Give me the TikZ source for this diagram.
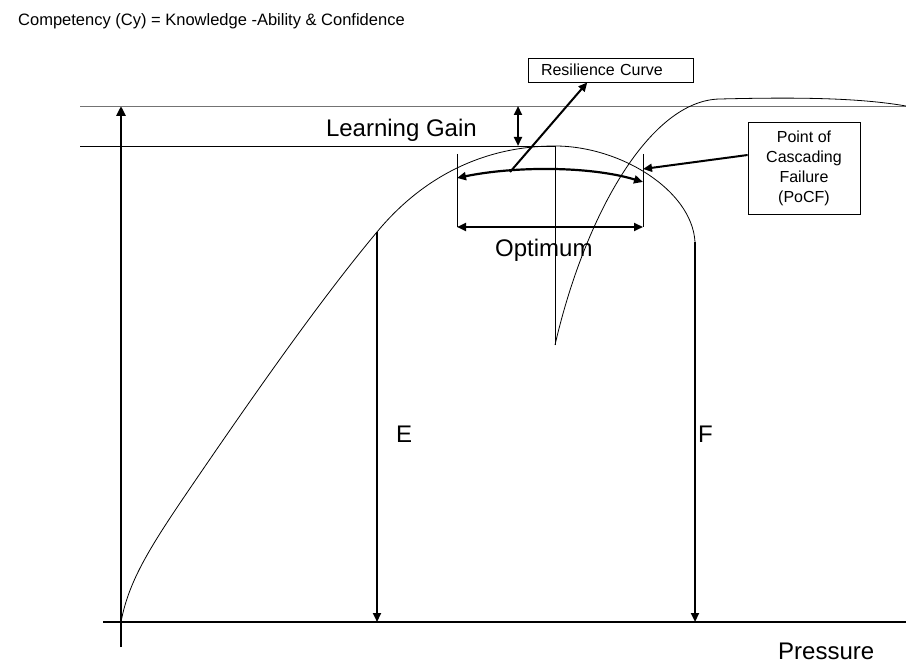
\documentclass[tikz,border=0pt]{standalone}
\usepackage{fontspec}
\setmainfont{Liberation Sans}
\usetikzlibrary{arrows.meta,positioning,calc}

\begin{document}
\begin{tikzpicture}[
    x=1pt, y=-1pt,
    bigtext/.style={font=\fontsize{24}{28}\selectfont, inner sep=0pt},
    labelbox/.style={rectangle, draw, line width=0.8pt, font=\fontsize{16}{20}\selectfont},
    axis/.style={line width=2.6pt},
    thinline/.style={line width=0.8pt},
    arrow/.style={-{Triangle[length=9pt, width=8pt]}, line width=2.2pt},
    twoway/.style={{Triangle[length=9pt, width=8pt]}-{Triangle[length=9pt, width=8pt]}, line width=2.2pt}
]
    \useasboundingbox (0,0) rectangle (906,666);

    \node [font=\fontsize{16.5}{20}\selectfont, inner sep=0pt, anchor=base west] (title) at (18,26) {Competency (Cy) = Knowledge -Ability \& Confidence};

    \coordinate (origin) at (121,622);
    \coordinate (ytop) at (121,106);
    \coordinate (ybot) at (121,647);
    \coordinate (xleft) at (103,622);
    \coordinate (xright) at (906,622);
    \draw [axis, -{Triangle[length=10pt, width=9pt]}] (ybot) -- (ytop);
    \draw [axis] (xleft) -- (xright);

    \draw [thinline, black!55] (80,106) -- (906,106);
    \draw [thinline] (80,146) -- (555,146);

    \coordinate (gaintop) at (518,106);
    \coordinate (gainbot) at (518,146);
    \draw [twoway] (gaintop) -- (gainbot);
    \node [bigtext, anchor=base east] (gain) at (477,137) {Learning Gain};

    \coordinate (peak) at (555,146);
    \coordinate (etop) at (377,232);
    \coordinate (ftop) at (695,242);
    \draw [thinline] (origin) .. controls (128,585) and (145,555) .. (180,503)
        .. controls (250,400) and (320,300) .. (etop)
        .. controls (420,180) and (480,146) .. (peak)
        .. controls (620,146) and (692,190) .. (ftop);

    \coordinate (dip) at (555,345);
    \draw [thinline] (dip) .. controls (585,215) and (650,100) .. (720,99)
        .. controls (800,97) and (860,98) .. (906,106);
    \draw [thinline] (peak) -- (dip);

    \coordinate (ebot) at (377,622);
    \coordinate (fbot) at (695,622);
    \draw [arrow] (etop) -- (ebot);
    \draw [arrow] (ftop) -- (fbot);
    \node [bigtext, anchor=base west] (e) at (396,442) {E};
    \node [bigtext, anchor=base west] (f) at (698,442) {F};

    \coordinate (optleft) at (457,227);
    \coordinate (optright) at (643,227);
    \draw [thinline] (457,154) -- (optleft);
    \draw [thinline] (643,154) -- (optright);
    \draw [twoway] (optleft) -- (optright);
    \node [bigtext, anchor=base west] (optimum) at (495,257) {Optimum};

    \coordinate (bowleft) at (457,178);
    \coordinate (bowright) at (643,182);
    \draw [twoway] (bowleft) .. controls (515,166) and (590,166) .. (bowright);

    \node [labelbox, text width=139pt, align=left, inner xsep=13pt, minimum height=24pt] (rescurve) at (610.5,70) {Resilience Curve};
    \coordinate (resfoot) at (510,172);
    \draw [arrow, line width=2pt] (resfoot) -- ($(rescurve.south west)!0.36!(rescurve.south east)$);

    \node [labelbox, align=center, minimum width=112pt, minimum height=92pt] (pocf) at (804,168) {Point of\\Cascading\\Failure\\(PoCF)};
    \coordinate (pocfhit) at (643,169);
    \draw [arrow, line width=2pt] ($(pocf.north west)!0.36!(pocf.south west)$) -- (pocfhit);

    \node [bigtext, anchor=base west] (pressure) at (778,659) {Pressure};
\end{tikzpicture}
\end{document}
